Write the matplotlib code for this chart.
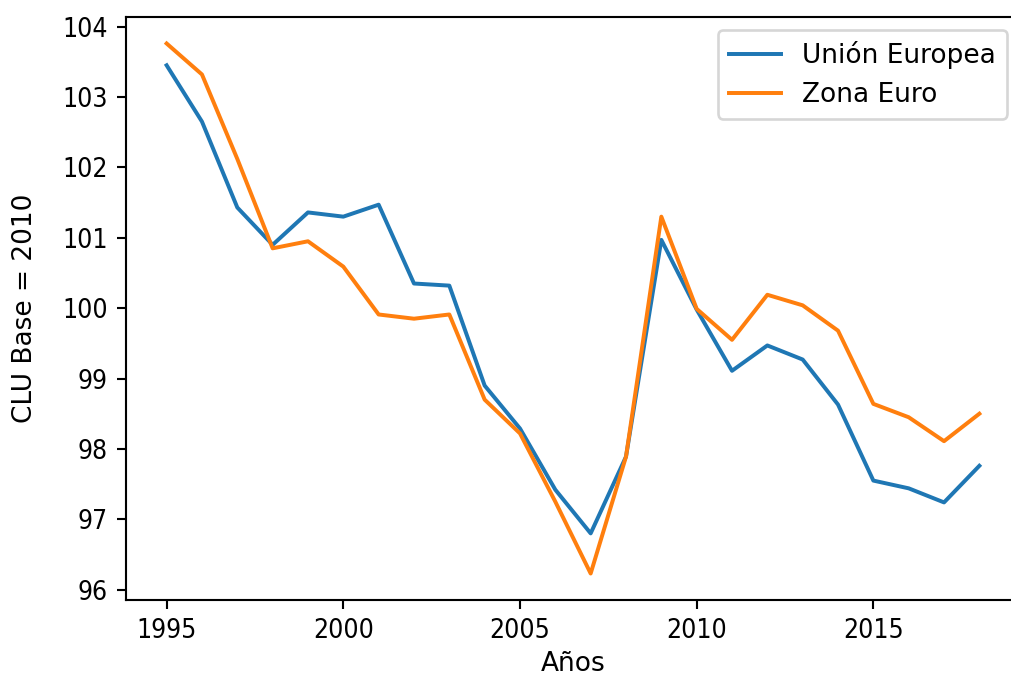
import matplotlib
matplotlib.use("Agg")
import matplotlib.pyplot as plt

years = list(range(1995, 2019))
union_europea = [103.45, 102.65, 101.43, 100.90, 101.36, 101.30, 101.47, 100.35,
                 100.32, 98.90, 98.29, 97.42, 96.80, 97.89, 100.97, 99.98,
                 99.11, 99.47, 99.27, 98.63, 97.55, 97.44, 97.24, 97.76]
zona_euro = [103.76, 103.32, 102.12, 100.85, 100.95, 100.59, 99.91, 99.85,
             99.91, 98.70, 98.22, 97.25, 96.23, 97.89, 101.30, 99.99,
             99.55, 100.19, 100.04, 99.68, 98.64, 98.45, 98.11, 98.50]
x_ticks = [1995, 2000, 2005, 2010, 2015]
y_ticks = list(range(96, 105))

plt.rcParams["font.family"] = ["DejaVu Sans"]

DPI = 190
W, H = 1011, 677
fig = plt.figure(figsize=(W / DPI, H / DPI), dpi=DPI)
ax = fig.add_axes([126 / W, 1 - 600 / H, (1020 - 126) / W, (600 - 17) / H])

ax.plot(years, union_europea, color="#1f77b4", label="Unión Europea")
ax.plot(years, zona_euro, color="#ff7f0e", label="Zona Euro")

ax.set_xlabel("Años", labelpad=2.5)
ax.set_ylabel("CLU Base = 2010")
ax.yaxis.set_label_coords((38 - 126) / 894, 0.5)
ax.set_xticks(x_ticks)
ax.set_yticks(y_ticks)
for lbl in ax.get_xticklabels() + ax.get_yticklabels():
    lbl.set_fontstretch("condensed")
ax.legend(loc="upper right")

fig.savefig("out.png", dpi=DPI)
